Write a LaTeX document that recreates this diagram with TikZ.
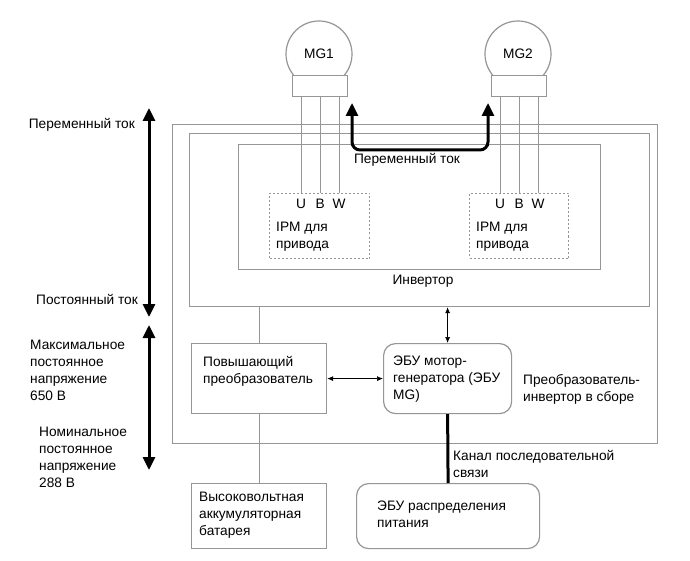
\documentclass[tikz,border=0pt]{standalone}
\usepackage{fontspec}
\setmainfont{Liberation Sans}
\usetikzlibrary{arrows.meta}
\definecolor{linegray}{RGB}{150,150,150}
\tikzset{
  every node/.style={font=\fontsize{13.7}{17}\selectfont},
  box/.style={draw=linegray,line width=1.2pt,fill=white,inner sep=0pt,anchor=north west},
  rbox/.style={box,rounded corners=12pt},
  ipmbox/.style={draw=linegray,line width=1pt,dash pattern=on 2pt off 2pt,inner sep=0pt,anchor=north west},
  txt/.style={align=left,inner sep=0pt,anchor=west},
  wire/.style={draw=linegray,line width=1.2pt},
  smallarrow/.style={draw=black,line width=0.7pt,{Latex[length=6pt,width=5pt]}-{Latex[length=6pt,width=5pt]}},
  bigarrow/.style={draw=black,line width=3pt,{Triangle[length=13pt,width=12pt]}-{Triangle[length=13pt,width=12pt]}},
  bus/.style={draw=black,line width=3pt}
}
\begin{document}
\begin{tikzpicture}[x=1pt,y=-1pt]
\useasboundingbox[fill=white] (0,0) rectangle (690,561);
% motor-generators
\node[circle,draw=linegray,line width=1.2pt,fill=white,minimum size=66pt,inner sep=0pt] (mg1) at (319,54) {MG1};
\node[circle,draw=linegray,line width=1.2pt,fill=white,minimum size=66pt,inner sep=0pt] (mg2) at (518,54) {MG2};
\node[box,minimum width=55pt,minimum height=21pt] (mg1base) at (292,75) {};
\node[box,minimum width=55pt,minimum height=21pt] (mg2base) at (491,75) {};
% boxes
\node[box,minimum width=485pt,minimum height=319pt] (assembly) at (172,124) {};
\node[box,minimum width=460pt,minimum height=173pt] (inverter) at (189,133) {};
\node[box,minimum width=362pt,minimum height=125pt] (ipmarea) at (238,144) {};
\node[ipmbox,minimum width=100pt,minimum height=65pt] (ipm1) at (269,193) {};
\node[ipmbox,minimum width=99pt,minimum height=65pt] (ipm2) at (469,193) {};
\node[box,minimum width=135pt,minimum height=70pt] (boost) at (191,343) {};
\node[rbox,minimum width=128pt,minimum height=70pt] (ecumg) at (383,343) {};
\node[box,minimum width=135pt,minimum height=65pt] (battery) at (191,483) {};
\node[rbox,minimum width=183pt,minimum height=65pt] (powerecu) at (356,483) {};
% phase wires
\foreach \dx/\ph in {-19/U,0/B,19/W} {
  \draw[wire] ([xshift=\dx pt]mg1base.south) -- ([xshift=\dx pt]mg1base.south |- ipm1.north);
  \draw[wire] ([xshift=\dx pt]mg2base.south) -- ([xshift=\dx pt]mg2base.south |- ipm2.north);
  \node[inner sep=0pt] at ([xshift=\dx pt]mg1base.south |- 0,204) {\ph};
  \node[inner sep=0pt] at ([xshift=\dx pt]mg2base.south |- 0,204) {\ph};
}
\node[txt] (ipm1txt) at (276,237) {IPM для\\привода};
\node[txt] (ipm2txt) at (476,237) {IPM для\\привода};
% connections
\draw[wire] (inverter.south -| boost.north) -- (boost.north);
\draw[wire] (boost.south) -- (battery.north);
\draw[smallarrow] (inverter.south -| ecumg.north) -- (ecumg.north);
\draw[smallarrow] (boost.east) -- (ecumg.west);
\draw[bus] (ecumg.south) -- (powerecu.north);
% AC arrow between MG1 and MG2
\coordinate (acl) at (352,103);
\coordinate (acr) at (488,103);
\draw[bigarrow,rounded corners=8pt] (acl) -- ++(0,47) -| (acr);
% left scale arrows
\coordinate (actop) at (149,108);
\coordinate (dcbot) at (149,317);
\coordinate (vtop) at (149,325);
\coordinate (vbot) at (149,470);
\draw[bigarrow] (actop) -- (dcbot);
\draw[bigarrow] (vtop) -- (vbot);
% labels
\node[txt] at (393,379) {ЭБУ мотор-\\генератора (ЭБУ\\MG)};
\node[txt] at (203,371) {Повышающий\\преобразователь};
\node[txt] at (199,515) {Высоковольтная\\аккумуляторная\\батарея};
\node[txt] at (377,514) {ЭБУ распределения\\питания};
\node[txt] at (523,389) {Преобразователь-\\инвертор в сборе};
\node[txt] at (453,464) {Канал последовательной\\связи};
\node[inner sep=0pt] at (423,281) {Инвертор};
\node[inner sep=0pt] at (407,160) {Переменный ток};
\node[inner sep=0pt,anchor=east] at (135,125) {Переменный ток};
\node[inner sep=0pt,anchor=east] at (138,299) {Постоянный ток};
\node[txt] at (30,370) {Максимальное\\постоянное\\напряжение\\650 В};
\node[txt] at (39,457) {Номинальное\\постоянное\\напряжение\\288 В};
\end{tikzpicture}
\end{document}
